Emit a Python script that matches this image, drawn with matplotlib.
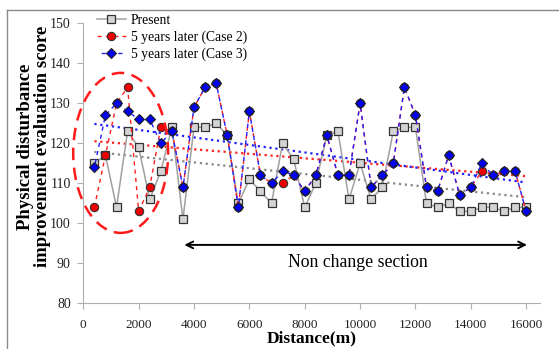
import numpy as np
import matplotlib
matplotlib.use('Agg')
import matplotlib.pyplot as plt
from matplotlib.patches import Ellipse
from matplotlib.lines import Line2D

# distance along the reach (m)
distance = [400, 800, 1200, 1600, 2000, 2400, 2800, 3200, 3600, 4000,
            4400, 4800, 5200, 5600, 6000, 6400, 6800, 7200, 7600, 8000,
            8400, 8800, 9200, 9600, 10000, 10400, 10800, 11200, 11600, 12000,
            12400, 12800, 13200, 13600, 14000, 14400, 14800, 15200, 15600, 16000]

present = [115, 117, 104, 123, 119, 106, 113, 124, 101, 124,
           124, 125, 122, 105, 111, 108, 105, 120, 116, 104,
           110, 122, 123, 106, 115, 106, 109, 123, 124, 124,
           105, 104, 105, 103, 103, 104, 104, 103, 104, 104]

case2 = [104, 117, 130, 134, 103, 109, 124, 123, 109, 129,
         134, 135, 122, 104, 128, 112, 110, 110, 112, 108,
         112, 122, 112, 112, 130, 109, 112, 115, 134, 127,
         109, 108, 117, 107, 109, 113, 112, 113, 113, 103]

case3 = [114, 127, 130, 128, 126, 126, 120, 123, 109, 129,
         134, 135, 122, 104, 128, 112, 110, 113, 112, 108,
         112, 122, 112, 112, 130, 109, 112, 115, 134, 127,
         109, 108, 117, 107, 109, 115, 112, 113, 113, 103]

labels = ['Present', '5 years later (Case 2)', '5 years later (Case 3)']
xticks = [0, 2000, 4000, 6000, 8000, 10000, 12000, 14000, 16000]
yticks = [80, 90, 100, 110, 120, 130, 140, 150]

plt.rcParams['font.family'] = ['Liberation Serif', 'DejaVu Serif']

fig = plt.figure(figsize=(5.59, 3.49), dpi=100)
ax = fig.add_axes([83.3 / 559, 1 - 303.3 / 349, (540 - 83.3) / 559, 280 / 349])

x = np.array(distance)


def trend(y):
    k, b = np.polyfit(x, np.array(y), 1)
    return k * x + b


# linear trend lines
ax.plot(x, trend(present), ls=':', color='#888888', lw=1.6, zorder=2)
ax.plot(x, trend(case2), ls=':', color='#ff2020', lw=1.6, zorder=2)
ax.plot(x, trend(case3), ls=':', color='#2020ff', lw=1.6, zorder=2)

ax.plot(x, present, '-', color='#a0a0a0', lw=1.1, marker='s', ms=6,
        mfc='#d4d4d4', mec='#333333', mew=0.9, label=labels[0], zorder=3)
ax.plot(x, case2, ls=(0, (3, 3)), color='#ff2020', lw=1.0, marker='o', ms=6,
        mfc='#ee0000', mec='#333333', mew=0.8, label=labels[1], zorder=4)
ax.plot(x, case3, ls=(3, (3, 3)), color='#2020ff', lw=1.0, marker='D', ms=5.2,
        mfc='#0000ee', mec='#222222', mew=0.8, label=labels[2], zorder=5)

# changed section highlight
ax.add_patch(Ellipse((1350, 117.6), 3430, 40, fill=False, ec='#ff1a1a',
                     lw=1.8, ls=(0, (5, 3)), zorder=6, clip_on=False))

ax.annotate('', xy=(16130, 94.6), xytext=(3550, 94.6),
            arrowprops=dict(arrowstyle='<->', color='black', lw=1.4,
                            mutation_scale=12))
ax.text(9920, 90.3, 'Non change section', ha='center', va='center',
        fontsize=12.8)

ax.set_xlim(0, 16500)
ax.set_ylim(80, 150)
ax.set_xticks(xticks)
ax.set_yticks(yticks)
ax.tick_params(length=4, width=0.8)
ax.tick_params(axis='x', labelsize=9.5, pad=7)
ax.tick_params(axis='y', labelsize=10, pad=5)
for s in ['top', 'right']:
    ax.spines[s].set_visible(False)
for s in ['left', 'bottom']:
    ax.spines[s].set_color('#b0b0b0')
    ax.spines[s].set_linewidth(0.8)
ax.tick_params(color='#b0b0b0', labelcolor='#222222')

ax.set_xlabel('Distance(m)', fontsize=12.5, fontweight='bold', labelpad=0)
ax.set_ylabel('Physical disturbance\nimprovement evaluation score',
              fontsize=13.5, fontweight='bold', linespacing=1.05)
ax.yaxis.set_label_coords(-0.07, 0.56)

ax.legend(loc='upper left', bbox_to_anchor=(97 / 559, 1 - 14 / 349),
          bbox_transform=fig.transFigure, frameon=False, fontsize=9.8,
          borderpad=0, borderaxespad=0, handlelength=2.1, handletextpad=0.4,
          labelspacing=0.25)

# chart border
fig.add_artist(Line2D([7 / 559, 7 / 559], [0, 1 - 9.5 / 349],
                      color='#8a8a8a', lw=1.0))
fig.add_artist(Line2D([7 / 559, 1], [1 - 9.5 / 349, 1 - 9.5 / 349],
                      color='#8a8a8a', lw=1.0))

fig.savefig('out.png', dpi=100)
